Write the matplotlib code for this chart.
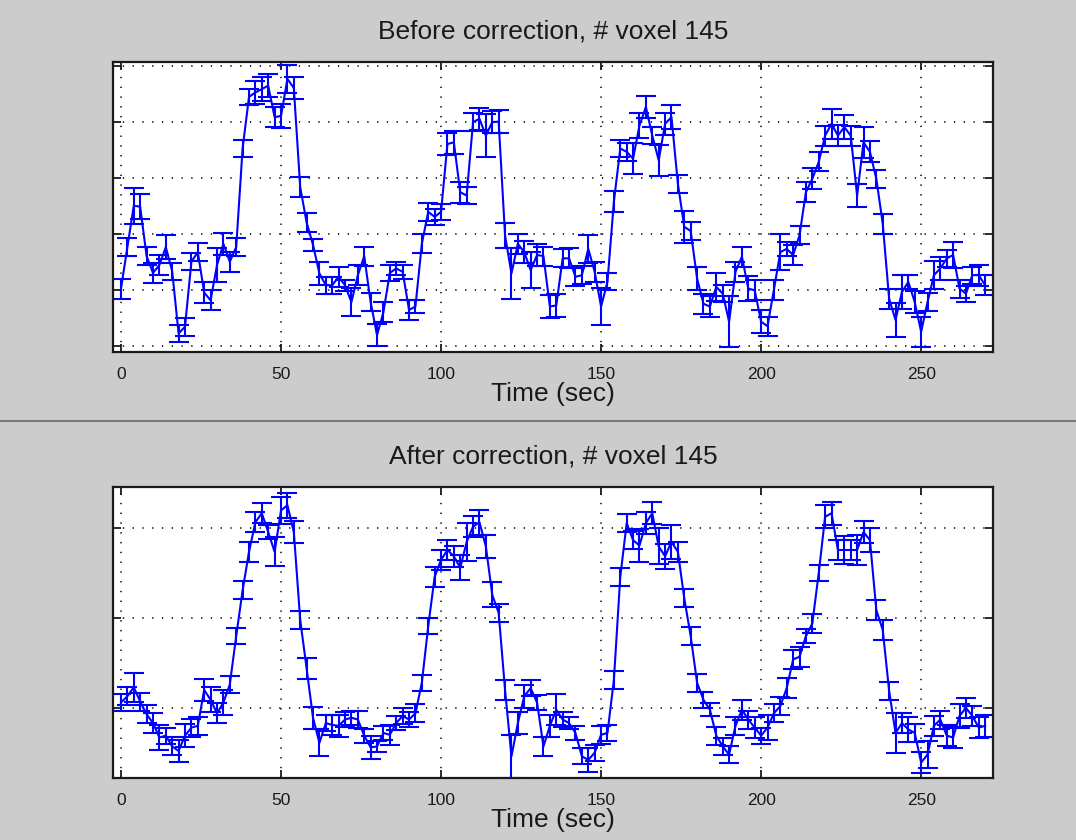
import numpy as np
import matplotlib
matplotlib.use('Agg')
import matplotlib.pyplot as plt
from matplotlib.lines import Line2D

plt.rcParams['font.family'] = ['Liberation Sans', 'DejaVu Sans']

TR = 2  # seconds between samples
voxel = 145

# signal before correction (arbitrary units)
before = [1.02, 1.76, 2.50, 2.48, 1.60, 1.30, 1.44, 1.76, 1.33, 0.22,
          0.34, 1.50, 1.67, 0.95, 0.81, 1.44, 1.82, 1.50, 1.76, 3.52,
          4.44, 4.52, 4.58, 4.64, 4.08, 4.10, 4.76, 4.60, 2.83, 2.20,
          1.80, 1.29, 1.08, 1.08, 1.23, 1.08, 0.78, 1.26, 1.60, 0.78,
          0.19, 0.60, 1.30, 1.38, 1.32, 0.64, 0.70, 1.82, 2.39, 2.30,
          2.39, 3.60, 3.63, 2.74, 2.68, 3.99, 4.05, 3.75, 3.99, 4.00,
          1.97, 1.29, 1.82, 1.67, 1.35, 1.62, 1.60, 0.70, 0.72, 1.56,
          1.56, 1.23, 1.26, 1.73, 1.32, 0.70, 1.14, 2.57, 3.52, 3.46,
          3.34, 3.93, 4.26, 3.75, 3.31, 3.96, 4.08, 2.89, 2.12, 2.05,
          1.20, 0.75, 0.70, 1.05, 0.93, 0.43, 1.32, 1.59, 1.02, 0.99,
          0.43, 0.35, 1.00, 1.67, 1.73, 1.62, 1.97, 2.74, 2.98, 3.28,
          3.75, 3.96, 3.75, 3.90, 3.75, 2.68, 3.63, 3.46, 2.98, 2.18,
          0.84, 0.46, 0.96, 1.14, 0.78, 0.25, 0.78, 1.26, 1.38, 1.56,
          1.62, 1.02, 0.93, 1.26, 1.26, 1.08]
err_before = [0.18, 0.16, 0.32, 0.22, 0.16, 0.18, 0.18, 0.22, 0.15, 0.15,
              0.16, 0.15, 0.16, 0.18, 0.18, 0.30, 0.20, 0.18, 0.16, 0.15,
              0.15, 0.20, 0.22, 0.20, 0.18, 0.22, 0.25, 0.20, 0.18, 0.17,
              0.10, 0.20, 0.15, 0.15, 0.18, 0.10, 0.25, 0.18, 0.17, 0.16,
              0.20, 0.18, 0.15, 0.12, 0.12, 0.18, 0.12, 0.17, 0.16, 0.14,
              0.14, 0.19, 0.20, 0.19, 0.15, 0.16, 0.20, 0.38, 0.19, 0.20,
              0.22, 0.46, 0.18, 0.20, 0.32, 0.20, 0.17, 0.20, 0.20, 0.16,
              0.18, 0.16, 0.16, 0.25, 0.18, 0.33, 0.15, 0.19, 0.16, 0.16,
              0.28, 0.22, 0.19, 0.15, 0.28, 0.20, 0.22, 0.16, 0.28, 0.16,
              0.20, 0.18, 0.18, 0.25, 0.15, 0.46, 0.18, 0.18, 0.22, 0.18,
              0.20, 0.17, 0.18, 0.32, 0.12, 0.17, 0.16, 0.18, 0.19, 0.17,
              0.18, 0.27, 0.19, 0.21, 0.18, 0.20, 0.28, 0.19, 0.16, 0.18,
              0.18, 0.30, 0.30, 0.12, 0.20, 0.27, 0.16, 0.25, 0.20, 0.15,
              0.24, 0.16, 0.14, 0.15, 0.19, 0.18]

# signal after correction (arbitrary units)
after = [1.06, 1.13, 1.23, 1.07, 0.93, 0.83, 0.67, 0.69, 0.57, 0.52,
         0.69, 0.78, 0.80, 1.20, 1.09, 0.94, 1.06, 1.26, 1.80, 2.31,
         2.74, 3.07, 3.17, 2.96, 2.74, 3.20, 3.26, 2.96, 1.98, 1.44,
         0.89, 0.61, 0.83, 0.81, 0.80, 0.87, 0.89, 0.87, 0.69, 0.56,
         0.57, 0.72, 0.70, 0.83, 0.91, 0.87, 0.94, 1.28, 1.91, 2.46,
         2.65, 2.76, 2.69, 2.56, 2.85, 3.02, 3.07, 2.80, 2.26, 2.06,
         1.20, 0.46, 0.83, 1.13, 1.22, 1.06, 0.57, 0.80, 0.98, 0.87,
         0.83, 0.72, 0.46, 0.42, 0.50, 0.70, 0.72, 1.31, 2.46, 3.06,
         2.87, 2.81, 3.06, 3.17, 2.80, 2.69, 2.85, 2.74, 2.22, 1.80,
         1.28, 1.09, 0.98, 0.69, 0.57, 0.48, 0.80, 0.98, 0.87, 0.78,
         0.69, 0.78, 0.94, 1.02, 1.22, 1.54, 1.57, 1.80, 1.94, 2.50,
         3.13, 3.17, 2.76, 2.76, 2.76, 2.76, 2.96, 2.87, 2.09, 1.87,
         1.19, 0.72, 0.83, 0.76, 0.72, 0.39, 0.48, 0.80, 0.87, 0.69,
         0.67, 0.91, 1.00, 0.91, 0.78, 0.80]
err_after = [0.09, 0.10, 0.16, 0.10, 0.10, 0.11, 0.14, 0.09, 0.10, 0.12,
             0.13, 0.10, 0.10, 0.12, 0.14, 0.11, 0.14, 0.09, 0.09, 0.10,
             0.11, 0.11, 0.11, 0.08, 0.16, 0.15, 0.14, 0.12, 0.10, 0.12,
             0.12, 0.15, 0.09, 0.11, 0.12, 0.08, 0.08, 0.09, 0.08, 0.13,
             0.06, 0.08, 0.11, 0.08, 0.09, 0.08, 0.10, 0.09, 0.09, 0.11,
             0.11, 0.11, 0.12, 0.14, 0.21, 0.12, 0.14, 0.13, 0.14, 0.10,
             0.11, 0.24, 0.12, 0.13, 0.09, 0.08, 0.11, 0.12, 0.17, 0.08,
             0.07, 0.08, 0.09, 0.13, 0.09, 0.10, 0.09, 0.10, 0.10, 0.10,
             0.10, 0.18, 0.12, 0.12, 0.20, 0.14, 0.19, 0.11, 0.10, 0.10,
             0.10, 0.09, 0.07, 0.10, 0.09, 0.09, 0.10, 0.11, 0.10, 0.12,
             0.09, 0.14, 0.10, 0.10, 0.11, 0.11, 0.11, 0.08, 0.11, 0.09,
             0.13, 0.13, 0.11, 0.16, 0.11, 0.17, 0.12, 0.13, 0.11, 0.11,
             0.10, 0.22, 0.11, 0.14, 0.10, 0.12, 0.15, 0.11, 0.10, 0.12,
             0.12, 0.13, 0.11, 0.11, 0.12, 0.12]

time = np.arange(len(before)) * TR
xticks = [0, 50, 100, 150, 200, 250]

fig = plt.figure(figsize=(10.76, 8.4), dpi=100, facecolor='#cccccc')

panels = [
    ([0.105, 0.581, 0.818, 0.345], before, err_before, 'Before correction',
     (-0.11, 5.06), [0, 1, 2, 3, 4, 5]),
    ([0.105, 0.074, 0.818, 0.346], after, err_after, 'After correction',
     (0.22, 3.46), [1, 2, 3]),
]

for pos, y, e, name, ylim, yt in panels:
    ax = fig.add_axes(pos)
    ax.set_facecolor('white')
    ax.errorbar(time, y, yerr=e, color='#0000ff', lw=1.5, elinewidth=1.5,
                capsize=7, capthick=1.5)
    ax.set_xlim(-2.5, 272.5)
    ax.set_ylim(*ylim)
    ax.set_xticks(xticks)
    ax.set_yticks(yt)
    ax.set_yticklabels([])
    ax.grid(True, color='black', linestyle=(0, (0.9, 5.5)), lw=1.1)
    ax.tick_params(direction='in', length=6, width=1.3, top=True, right=True,
                   labelsize=12.5, pad=11, colors='#1a1a1a')
    for s in ax.spines.values():
        s.set_linewidth(1.6)
        s.set_color('#1a1a1a')
    ax.set_title('%s, # voxel %d' % (name, voxel), fontsize=19, pad=17,
                 color='#1a1a1a')
    ax.set_xlabel('Time (sec)', fontsize=19, labelpad=0, color='#1a1a1a')

fig.add_artist(Line2D([0, 1], [0.4994, 0.4994], transform=fig.transFigure,
                      color='#7a7a7a', lw=1.5))

plt.savefig('out.png', dpi=100, facecolor=fig.get_facecolor())
